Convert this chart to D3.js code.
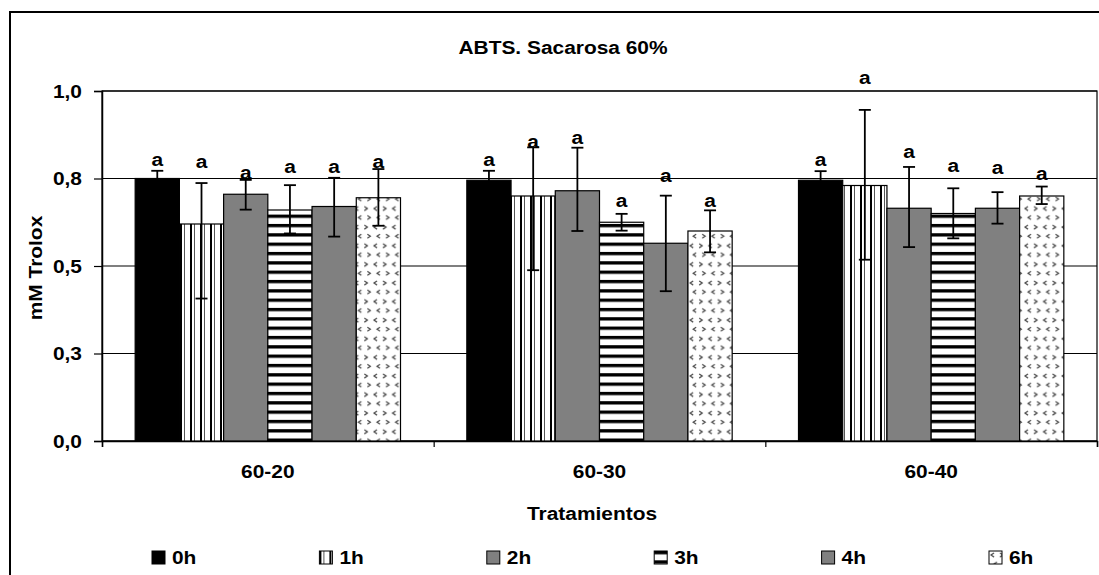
<!DOCTYPE html>
<html>
<head>
<meta charset="utf-8">
<script src="https://cdn.jsdelivr.net/npm/d3@7"></script>
<style>
body{margin:0;background:#fff;}
svg text{font-family:"Liberation Sans",Arial,sans-serif;font-weight:bold;fill:#000;}
</style>
</head>
<body>
<svg id="chart" width="1099" height="575"></svg>
<script>
// data
const groups = ["60-20", "60-30", "60-40"];
const series = ["0h", "1h", "2h", "3h", "4h", "6h"];
// mean per series (rows) and treatment (columns)
const means = [
  [0.750, 0.745, 0.745],
  [0.620, 0.700, 0.730],
  [0.705, 0.715, 0.665],
  [0.660, 0.625, 0.650],
  [0.670, 0.565, 0.665],
  [0.695, 0.600, 0.700]
];
// error bar ends
const errHigh = [
  [0.772, 0.772, 0.771],
  [0.737, 0.839, 0.946],
  [0.746, 0.838, 0.783],
  [0.731, 0.649, 0.722],
  [0.752, 0.701, 0.711],
  [0.777, 0.659, 0.727]
];
const errLow = [
  [0.728, 0.718, 0.719],
  [0.407, 0.488, 0.518],
  [0.661, 0.600, 0.554],
  [0.593, 0.601, 0.579],
  [0.584, 0.428, 0.621],
  [0.615, 0.539, 0.677]
];
// significance letters and where they sit (value units)
const letters = [
  ["a", "a", "a"], ["a", "a", "a"], ["a", "a", "a"],
  ["a", "a", "a"], ["a", "a", "a"], ["a", "a", "a"]
];
const letterAt = [
  [0.805, 0.806, 0.806],
  [0.798, 0.855, 1.038],
  [0.769, 0.868, 0.829],
  [0.784, 0.689, 0.787],
  [0.784, 0.760, 0.783],
  [0.798, 0.689, 0.765]
];
const yTicks = [0, 0.25, 0.5, 0.75, 1.0];
const yTickLabels = ["0,0", "0,3", "0,5", "0,8", "1,0"];

const SX = 1.1;   // the original text is drawn a bit wide
const FS = 19;

let chart = d3.select("#chart");
let W = +chart.attr("width"), H = +chart.attr("height");
let pLeft = 102, pRight = 1097, pTop = 91, pBottom = 441;

// patterns
let defs = chart.append("defs");
let pv = defs.append("pattern").attr("id", "p1h").attr("patternUnits", "userSpaceOnUse")
    .attr("width", 10).attr("height", 10);
pv.append("rect").attr("width", 10).attr("height", 10).attr("fill", "#fff");
pv.append("rect").attr("x", 0).attr("width", 2).attr("height", 10).attr("fill", "#000");
pv.append("rect").attr("x", 4).attr("width", 1).attr("height", 10).attr("fill", "#555");

let ph = defs.append("pattern").attr("id", "p3h").attr("patternUnits", "userSpaceOnUse")
    .attr("width", 10).attr("height", 9.33);
ph.append("rect").attr("width", 10).attr("height", 9.33).attr("fill", "#fff");
ph.append("rect").attr("y", 0).attr("width", 10).attr("height", 3.3).attr("fill", "#000");

let pd = defs.append("pattern").attr("id", "p6h").attr("patternUnits", "userSpaceOnUse")
    .attr("width", 18.6).attr("height", 18.6);
pd.append("rect").attr("width", 18.6).attr("height", 18.6).attr("fill", "#fff");
pd.append("path").attr("d", "M5,2 L2,4 L5,6 M14,11 L17,13 L14,15")
    .attr("fill", "none").attr("stroke", "#444").attr("stroke-width", 1.2);
pd.append("path").attr("d", "M11,2 L14,4 L11,6 M8,11 L5,13 L8,15")
    .attr("fill", "none").attr("stroke", "#444").attr("stroke-width", 1.2);

const fills = ["#000", "url(#p1h)", "#808080", "url(#p3h)", "#808080", "url(#p6h)"];

// outer frame
chart.append("rect")
    .attr("x", 10).attr("y", 12).attr("width", W).attr("height", H + 20)
    .attr("fill", "none").attr("stroke", "#000").attr("stroke-width", 2);

// scales
let x = d3.scaleBand().domain(groups).range([pLeft, pRight]).padding(0);
let xs = d3.scaleBand().domain(series).range([0, x.bandwidth()])
    .paddingInner(0).paddingOuter(0.75);
let y = d3.scaleLinear().domain([0, 1]).range([pBottom, pTop]);

// grid lines
chart.append("g").selectAll("line")
    .data(yTicks).enter()
    .append("line")
      .attr("x1", pLeft).attr("x2", pRight)
      .attr("y1", d => y(d)).attr("y2", d => y(d))
      .attr("stroke", "#000").attr("stroke-width", 1.2);

// plot border
chart.append("rect")
    .attr("x", pLeft).attr("y", pTop).attr("width", pRight - pLeft).attr("height", pBottom - pTop)
    .attr("fill", "none").attr("stroke", "#000").attr("stroke-width", 1.2);

function stretch(sel) {
  sel.each(function () {
    let t = d3.select(this);
    let tx = +t.attr("x") || 0, ty = +t.attr("y") || 0;
    t.attr("x", 0).attr("y", 0)
     .attr("transform", "translate(" + tx + "," + ty + ") scale(" + SX + ",1)");
  });
}

// y axis
let yAxis = d3.axisLeft(y).tickValues(yTicks)
    .tickFormat((d, i) => yTickLabels[i]).tickSize(8).tickPadding(12);
let yAxisGroup = chart.append("g")
    .attr("transform", "translate(" + pLeft + ",0)")
    .call(yAxis);
yAxisGroup.attr("font-family", null);
yAxisGroup.select(".domain").attr("stroke-width", 1.5);
yAxisGroup.selectAll(".tick line").attr("stroke-width", 1.2);
yAxisGroup.selectAll("text").attr("font-size", FS).call(stretch);

// x axis: ticks on the boundaries, labels in the middle
let xb = d3.scaleLinear().domain([0, groups.length]).range([pLeft, pRight]);
let xAxisGroup = chart.append("g")
    .attr("transform", "translate(0," + pBottom + ")")
    .call(d3.axisBottom(xb).tickValues(d3.range(groups.length + 1)).tickFormat("").tickSize(6));
xAxisGroup.select(".domain").attr("stroke-width", 1.5);
xAxisGroup.selectAll(".tick line").attr("stroke-width", 1.2);

let xLab = chart.append("g")
    .attr("transform", "translate(0," + pBottom + ")")
    .call(d3.axisBottom(x).tickSize(0).tickPadding(24));
xLab.attr("font-family", null);
xLab.select(".domain").remove();
xLab.selectAll("text").attr("font-size", FS).attr("dy", "0.71em").call(stretch);

// bars
let cells = [];
series.forEach((s, i) => groups.forEach((g, j) => cells.push({
  s: s, g: g, i: i, v: means[i][j], hi: errHigh[i][j], lo: errLow[i][j],
  lab: letters[i][j], la: letterAt[i][j]
})));

chart.append("g").selectAll("rect")
    .data(cells).enter()
    .append("rect")
      .attr("x", d => x(d.g) + xs(d.s))
      .attr("y", d => y(d.v))
      .attr("width", xs.bandwidth())
      .attr("height", d => y(0) - y(d.v))
      .attr("fill", d => fills[d.i])
      .attr("stroke", "#000").attr("stroke-width", 1.2);

// error bars
let eb = chart.append("g").attr("stroke", "#000").attr("stroke-width", 1.8);
let cx = d => x(d.g) + xs(d.s) + xs.bandwidth() / 2;
eb.selectAll("line.v").data(cells).enter().append("line").attr("class", "v")
    .attr("x1", cx).attr("x2", cx)
    .attr("y1", d => y(d.hi)).attr("y2", d => y(d.lo));
eb.selectAll("line.t").data(cells).enter().append("line").attr("class", "t")
    .attr("x1", d => cx(d) - 6).attr("x2", d => cx(d) + 6)
    .attr("y1", d => y(d.hi)).attr("y2", d => y(d.hi));
eb.selectAll("line.b").data(cells).enter().append("line").attr("class", "b")
    .attr("x1", d => cx(d) - 6).attr("x2", d => cx(d) + 6)
    .attr("y1", d => y(d.lo)).attr("y2", d => y(d.lo));

// letters
chart.append("g").selectAll("text")
    .data(cells).enter()
    .append("text")
      .text(d => d.lab)
      .attr("x", cx)
      .attr("y", d => y(d.la))
      .attr("dy", "0.35em")
      .attr("text-anchor", "middle")
      .attr("font-size", FS)
      .call(stretch);

// title
chart.append("text")
    .text("ABTS. Sacarosa 60%")
    .attr("x", 563).attr("y", 47).attr("dy", "0.35em")
    .attr("text-anchor", "middle").attr("font-size", FS)
    .call(stretch);

// axis titles
chart.append("text")
    .text("Tratamientos")
    .attr("x", 592).attr("y", 513).attr("dy", "0.35em")
    .attr("text-anchor", "middle").attr("font-size", FS)
    .call(stretch);

chart.append("text")
    .text("mM Trolox")
    .attr("text-anchor", "middle").attr("dy", "0.35em")
    .attr("font-size", FS)
    .attr("transform", "translate(35,268) rotate(-90) scale(" + SX + ",1)");

// legend
let leg = chart.append("g").selectAll("g")
    .data(series).enter()
    .append("g")
      .attr("transform", (d, i) => "translate(" + (152 + i * 167.4) + ",551)");
leg.append("rect")
    .attr("width", 13).attr("height", 13)
    .attr("fill", (d, i) => fills[i])
    .attr("stroke", "#000").attr("stroke-width", 1);
leg.append("text")
    .text(d => d)
    .attr("x", 20).attr("y", 6.5).attr("dy", "0.35em")
    .attr("font-size", FS)
    .call(stretch);
</script>
</body>
</html>
